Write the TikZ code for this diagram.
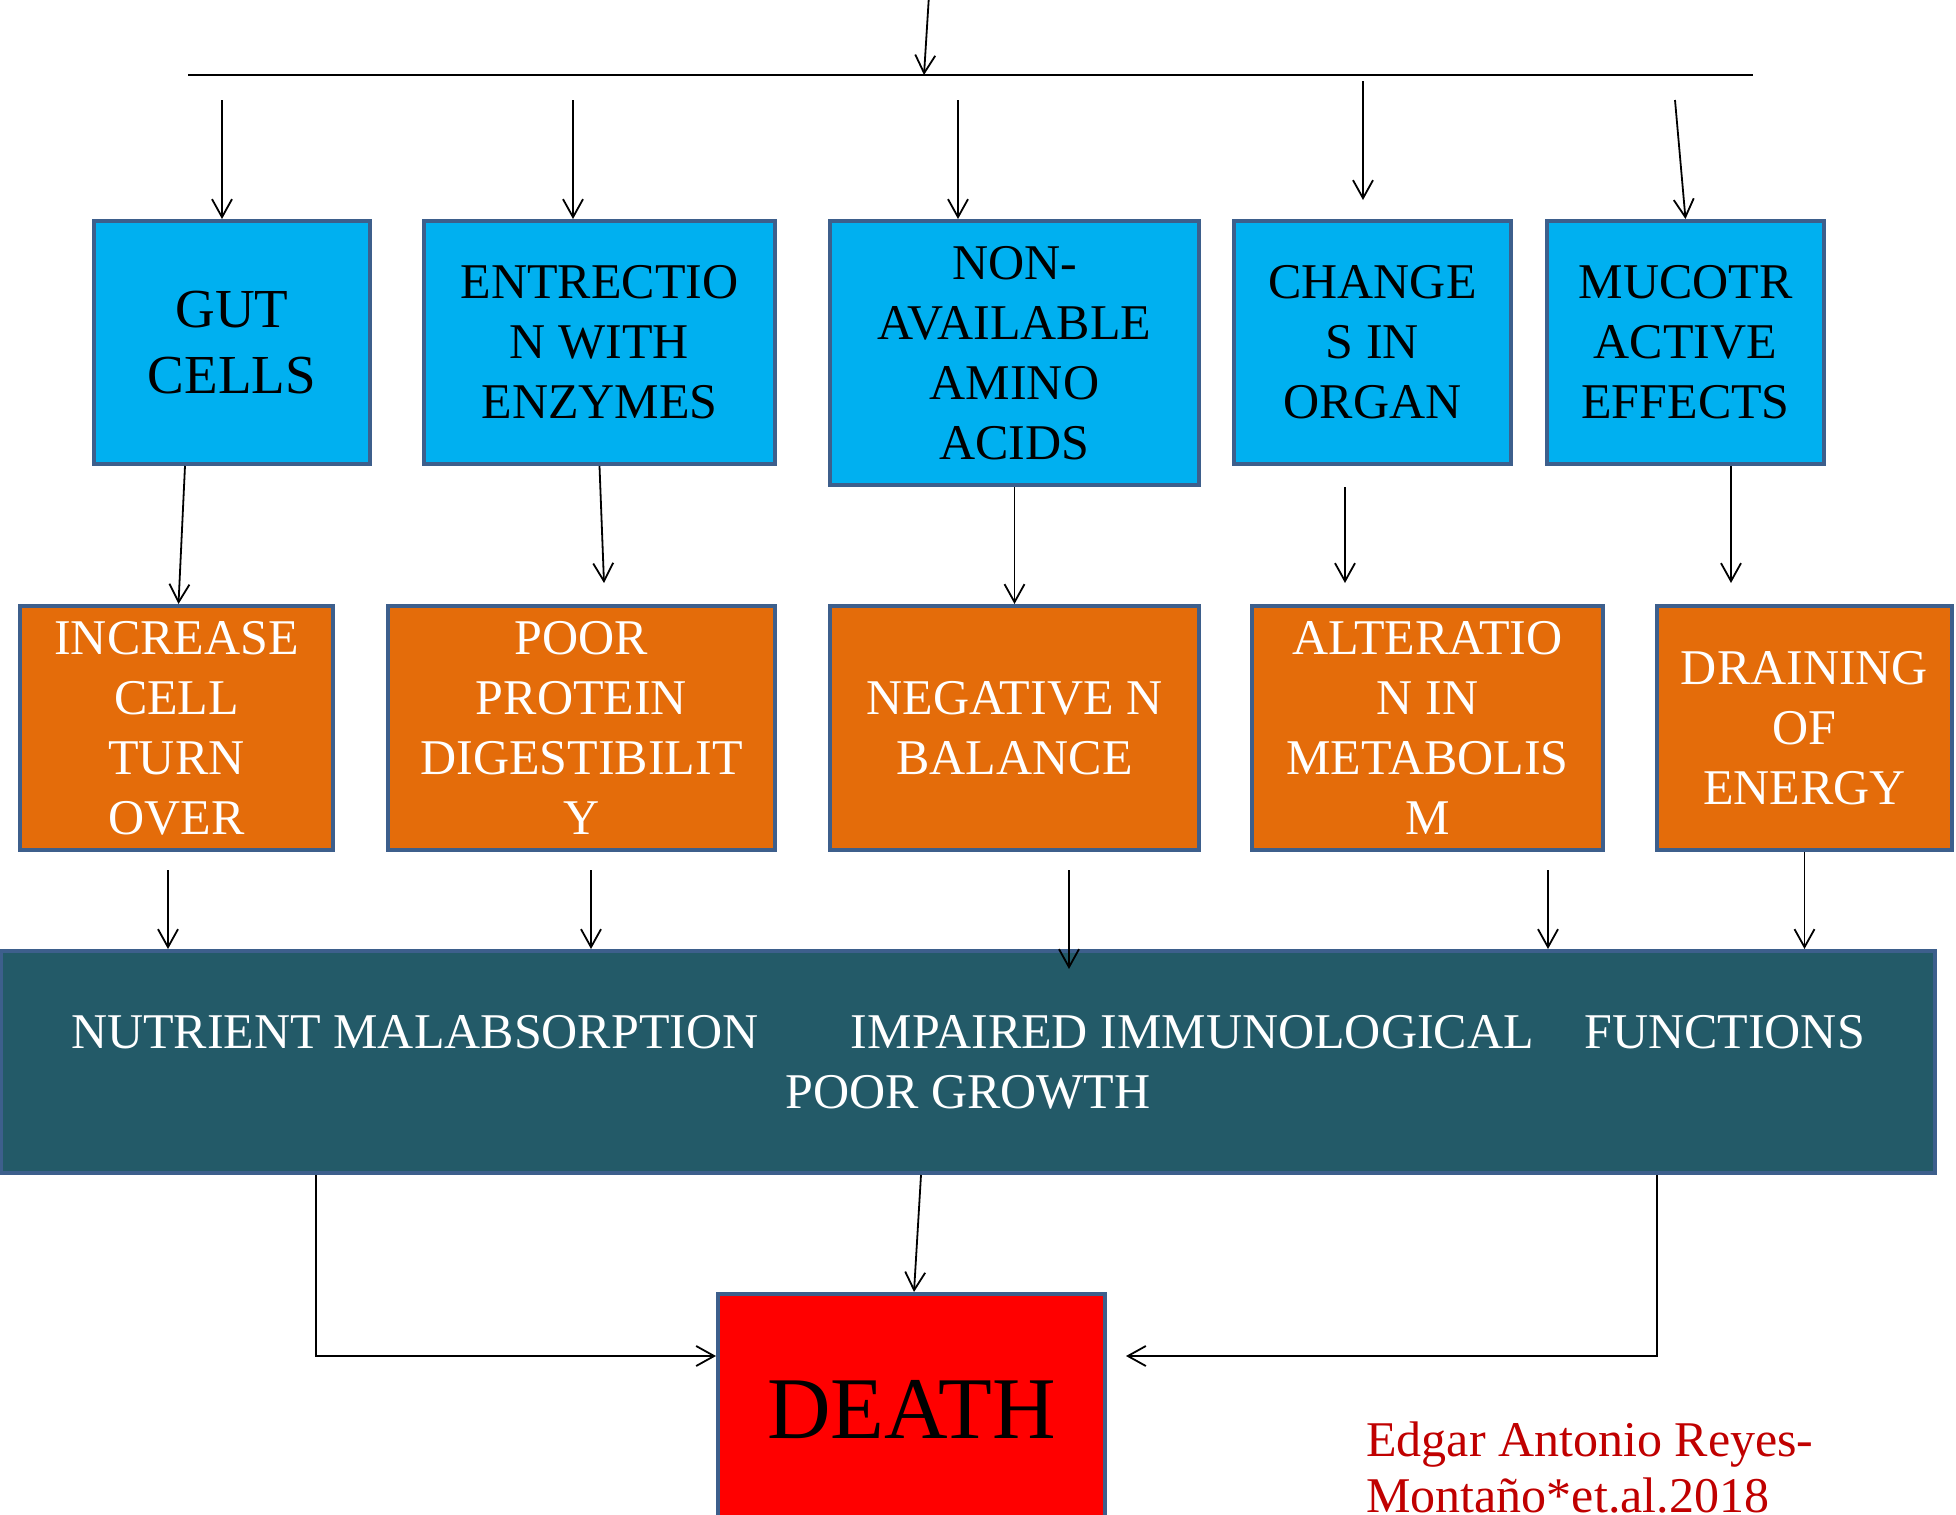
\documentclass[tikz,border=0pt]{standalone}
\usepackage{fontspec}
\setmainfont{Liberation Serif}
\usetikzlibrary{arrows.meta, calc}
\definecolor{frame}{HTML}{3D5F8C}
\definecolor{sky}{HTML}{00B0F0}
\definecolor{rust}{HTML}{E46C0A}
\definecolor{petrol}{HTML}{235A68}
\definecolor{citered}{HTML}{C00000}

\begin{document}
\begin{tikzpicture}[
    x=0.5pt, y=-0.5pt,
    BX/.style args = {#1/#2}{
                    draw=frame,% border color
                    fill=#1, text=#2,
                    line width=2pt, inner sep=1mm,
                    align=center, font=\fontsize{25}{30}\selectfont},
    wh/.style 2 args = {minimum width=#1*0.5pt, minimum height=#2*0.5pt},
    arr/.style = {line width=0.9pt,
                    -{Straight Barb[length=9pt,width=10pt]}},
    bar/.style = {line width=1.1pt}]
%---
\useasboundingbox (0,0) rectangle (1956,1515);
% top row
\node (gut)    [BX=sky/black, wh={276}{243}, font=\fontsize{27.5}{33}\selectfont]
                                              at (232,342.5)    {GUT\\CELLS};
\node (enz)    [BX=sky/black, wh={351}{243}]  at (599.5,342.5)  {ENTRECTIO\\N WITH\\ENZYMES};
\node (amino)  [BX=sky/black, wh={369}{264}]  at (1014.5,353)   {NON-\\AVAILABLE\\AMINO\\ACIDS};
\node (organ)  [BX=sky/black, wh={277}{243}]  at (1372.5,342.5) {CHANGE\\S IN\\ORGAN};
\node (muco)   [BX=sky/black, wh={277}{243}]  at (1685.5,342.5) {MUCOTR\\ACTIVE\\EFFECTS};
% second row
\node (turn)   [BX=rust/white, wh={313}{244}] at (176.5,728)    {INCREASE\\CELL\\TURN\\OVER};
\node (digest) [BX=rust/white, wh={387}{244}] at (581.5,728)    {POOR\\PROTEIN\\DIGESTIBILIT\\Y};
\node (nbal)   [BX=rust/white, wh={369}{244}] at (1014.5,728)   {NEGATIVE N\\BALANCE};
\node (metab)  [BX=rust/white, wh={351}{244}] at (1427.5,728)   {ALTERATIO\\N IN\\METABOLIS\\M};
\node (energy) [BX=rust/white, wh={295}{244}] at (1804.5,728)   {DRAINING\\OF\\ENERGY};
% wide box
\node (mal)    [BX=petrol/white, wh={1934}{222}] at (968,1062)
    {NUTRIENT MALABSORPTION\hspace{40pt} IMPAIRED IMMUNOLOGICAL\hspace{19pt} FUNCTIONS\\POOR GROWTH};
% bottom
\node (death)  [BX=red/black, wh={387}{232}, font=\fontsize{44}{50}\selectfont]
                                              at (911.5,1410)   {DEATH};
\node (cite)   [anchor=north west, inner sep=0pt, align=left, text=citered,
                font=\fontsize{25}{28}\selectfont]
                                              at (1366,1421)    {Edgar Antonio Reyes-\\Montaño*et.al.2018};
% free ends
\coordinate (src)  at (929,-5);
\coordinate (hub)  at (924,75);
\coordinate (barL) at (188,75);
\coordinate (barR) at (1753,75);
\coordinate (t1) at (222,100);   \coordinate (t2) at (573,100);
\coordinate (t3) at (958,100);   \coordinate (t4) at (1363,81);
\coordinate (t5) at (1675,100);  \coordinate (t4e) at (1363,200);
\coordinate (u1) at (168,870);   \coordinate (u2) at (591,870);
\coordinate (u3) at (1069,870);  \coordinate (u4) at (1548,870);
\coordinate (u3e) at (1069,969);
\coordinate (kl) at (316,1356);  \coordinate (kr) at (1657,1356);
\coordinate (kre) at (1126,1356);
% lines
\draw[bar] (barL) -- (barR);
\draw[arr] (src) -- (hub);
\draw[arr] (t1) -- (t1 |- gut.north);
\draw[arr] (t2) -- (t2 |- enz.north);
\draw[arr] (t3) -- (t3 |- amino.north);
\draw[arr] (t4) -- (t4e);
\draw[arr] (t5) -- (muco.north);
% blue to orange
\draw[arr] ($(gut.south)+(-47,0)$)    -- ($(turn.north)+(2,0)$);
\draw[arr] (enz.south)                -- ($(digest.north)+(22.5,-21)$);
\draw[arr] (amino.south)              -- (nbal.north);
\draw[arr] ($(organ.south)+(-27.5,21)$) -- ($(metab.north)+(-82.5,-21)$);
\draw[arr] ($(muco.south)+(45.5,0)$)  -- ($(energy.north)+(-73.5,-21)$);
% orange to wide box
\draw[arr] (u1) -- (u1 |- mal.north);
\draw[arr] (u2) -- (u2 |- mal.north);
\draw[arr] (u3) -- (u3e);
\draw[arr] (u4) -- (u4 |- mal.north);
\draw[arr] (energy.south) -- (energy.south |- mal.north);
% wide box to death
\draw[arr] ($(mal.south)+(-47,0)$) -- ($(death.north)+(2.5,0)$);
\draw[arr] (kl |- mal.south) -- (kl) -- (kl -| death.west);
\draw[arr] (kr |- mal.south) -- (kr) -- (kre);
\end{tikzpicture}
\end{document}
